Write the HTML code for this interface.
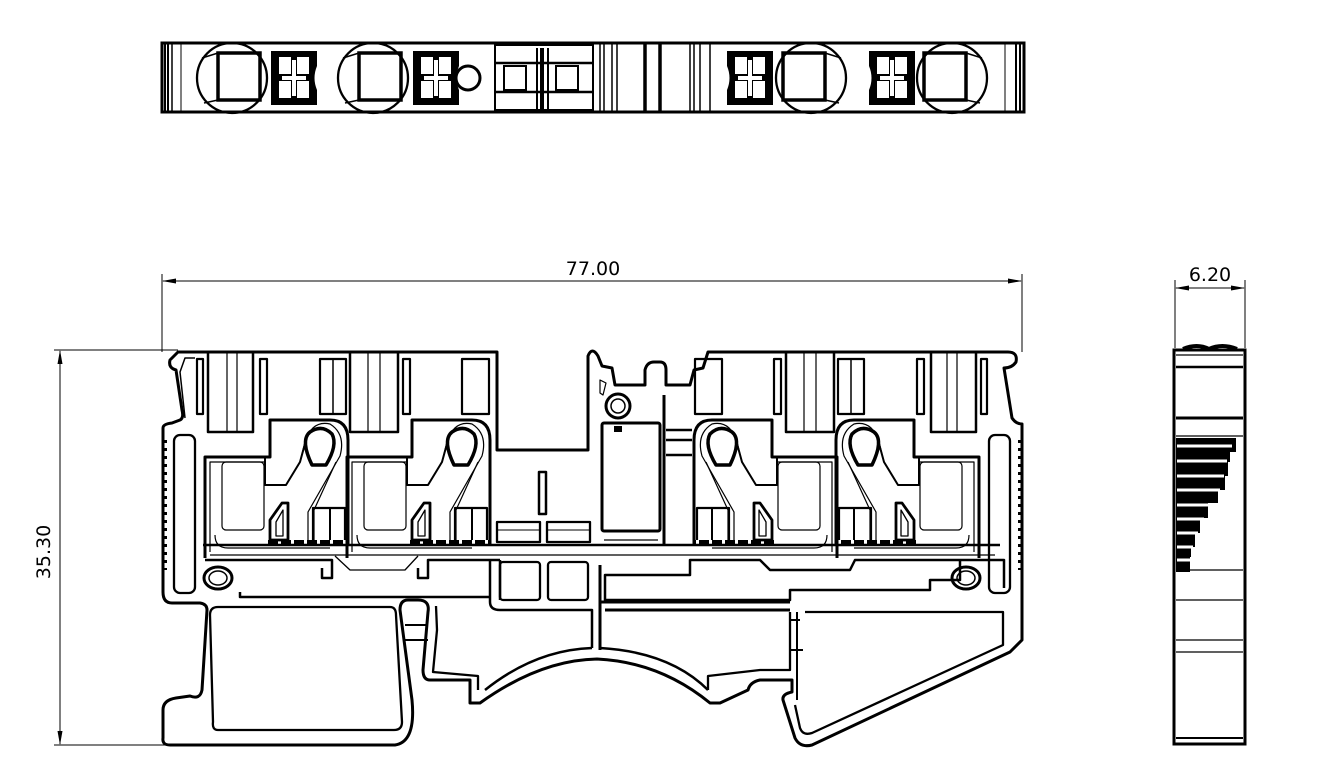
<!DOCTYPE html>
<html><head><meta charset="utf-8"><style>
html,body{margin:0;padding:0;background:#fff;width:1336px;height:781px;overflow:hidden}
svg{display:block}
text{font-family:"DejaVu Sans","Liberation Sans",sans-serif;font-size:19px;fill:#000}
</style></head><body>
<svg width="1336" height="781" viewBox="0 0 1336 781" xmlns="http://www.w3.org/2000/svg">
<defs>
<marker id="ar" markerWidth="14" markerHeight="8" refX="13" refY="4" orient="auto" markerUnits="userSpaceOnUse"><path d="M0,1.5 L14,4 L0,6.5 Z" fill="#000"/></marker>
<g id="clamp" fill="none" stroke="#000">
  <path d="M208,352 V432 H253 V352" stroke-width="2.5"/>
  <line x1="227" y1="352" x2="227" y2="432" stroke-width="1.2"/><line x1="237" y1="352" x2="237" y2="432" stroke-width="1.2"/>
  <rect x="197" y="359" width="6" height="55" stroke-width="2.2"/>
  <rect x="260" y="359" width="7" height="55" stroke-width="2.2"/>
  <rect x="320" y="359" width="26" height="55" stroke-width="2.2"/><line x1="333" y1="359" x2="333" y2="414" stroke-width="1.5"/>
  <path d="M350,352 V432 H398 V352" stroke-width="2.5"/>
  <line x1="368" y1="352" x2="368" y2="432" stroke-width="1.2"/><line x1="380" y1="352" x2="380" y2="432" stroke-width="1.2"/>
  <rect x="403" y="359" width="7" height="55" stroke-width="2.2"/>
  <rect x="462" y="359" width="27" height="55" stroke-width="2.2"/>
  <g id="c1">
    <path d="M205,558 V457 H270 V420 H330 Q348,420 348,440 V545" stroke-width="3"/>
    <path d="M210,552 V462 H265" stroke-width="1.2"/>
    <rect x="222" y="462" width="42" height="68" rx="4" stroke-width="1.2"/>
    <path d="M215,535 Q215,548 228,548 H330" stroke-width="1.2"/>
    <path d="M265,457 V485 H286 L300,462 L306,440" stroke-width="2"/>
    <path d="M312,465 Q300,440 310,432 Q322,424 332,434 Q338,445 326,465 Z" stroke-width="3.5"/>
    <path d="M300,462 L305,442 Q312,420 330,424 Q346,434 340,456 L308,512 V540" stroke-width="1.2"/>
    <path d="M336,462 L314,510 V540" stroke-width="1.2"/>
    <path d="M270,540 V520 L282,503 H288 V540 Z" stroke-width="2.8"/>
    <path d="M276,536 V522 L283,510 V536 Z" stroke-width="1.3"/>
    <path d="M313,540 V508 H345 V540" stroke-width="2.2"/><line x1="330" y1="508" x2="330" y2="540" stroke-width="2"/>
    <line x1="268" y1="542" x2="348" y2="542" stroke-width="4" stroke-dasharray="10,3"/>
  </g>
  <use href="#c1" x="142"/>
</g>
</defs>

<g fill="none" stroke="#000">
  <rect x="162" y="43" width="862" height="69" stroke-width="3"/>
  <line x1="165" y1="43" x2="165" y2="112" stroke-width="2"/><line x1="168" y1="43" x2="168" y2="112" stroke-width="2"/><line x1="172" y1="43" x2="172" y2="112" stroke-width="1.5"/><line x1="181" y1="43" x2="181" y2="112" stroke-width="1"/>
  <line x1="1020" y1="43" x2="1020" y2="112" stroke-width="2"/><line x1="1016" y1="43" x2="1016" y2="112" stroke-width="2"/><line x1="1005" y1="43" x2="1005" y2="112" stroke-width="1"/>
  <g id="circ">
    <circle cx="232" cy="78" r="35" stroke-width="2.3"/>
    <rect x="218" y="53" width="42" height="47" stroke-width="3.5"/>
    <line x1="202" y1="58" x2="218" y2="53" stroke-width="1.5"/>
    <line x1="204" y1="103" x2="218" y2="100" stroke-width="1.5"/>
  </g>
  <use href="#circ" x="141"/>
  <g transform="translate(1184,0) scale(-1,1)"><use href="#circ" x="0"/><use href="#circ" x="141"/></g>
  <g id="crs">
    <rect x="271" y="51" width="46" height="54" fill="#000" stroke="none"/>
    <rect x="279" y="57" width="12" height="17" fill="#fff" stroke="none"/>
    <rect x="297" y="57" width="12" height="17" fill="#fff" stroke="none"/>
    <rect x="279" y="81" width="12" height="17" fill="#fff" stroke="none"/>
    <rect x="297" y="81" width="12" height="17" fill="#fff" stroke="none"/>
    <rect x="292" y="60" width="4" height="36" fill="#fff" stroke="none"/>
    <rect x="282" y="76" width="24" height="4" fill="#fff" stroke="none"/>
    <path d="M317,66 Q312,78 317,90 Z" fill="#fff" stroke="none"/>
  </g>
  <use href="#crs" x="142"/>
  <g transform="translate(1186,0) scale(-1,1)"><use href="#crs" x="0"/><use href="#crs" x="142"/></g>
  <circle cx="468" cy="78" r="12" stroke-width="3"/>
  <rect x="495" y="45" width="98" height="65" stroke-width="2"/>
  <line x1="495" y1="63" x2="593" y2="63" stroke-width="2.5"/><line x1="495" y1="92" x2="593" y2="92" stroke-width="2.5"/>
  <rect x="504" y="66" width="22" height="24" stroke-width="2"/><rect x="556" y="66" width="22" height="24" stroke-width="2"/>
  <line x1="537" y1="48" x2="537" y2="110" stroke-width="2"/><line x1="542" y1="48" x2="542" y2="110" stroke-width="4"/><line x1="548" y1="48" x2="548" y2="110" stroke-width="2"/>
  <line x1="600" y1="43" x2="600" y2="112" stroke-width="1.5"/><line x1="604" y1="43" x2="604" y2="112" stroke-width="1.5"/>
  <line x1="612" y1="43" x2="612" y2="112" stroke-width="1.5"/><line x1="617" y1="43" x2="617" y2="112" stroke-width="1.5"/>
  <line x1="645" y1="43" x2="645" y2="112" stroke-width="3.5"/><line x1="660" y1="43" x2="660" y2="112" stroke-width="3.5"/>
  <line x1="690" y1="43" x2="690" y2="112" stroke-width="1.5"/><line x1="694" y1="43" x2="694" y2="112" stroke-width="1.5"/>
  <line x1="700" y1="43" x2="700" y2="112" stroke-width="1.5"/><line x1="710" y1="43" x2="710" y2="112" stroke-width="1.5"/>
</g>

<g stroke="#000" stroke-width="1" fill="none">
  <line x1="162" y1="274" x2="162" y2="352"/><line x1="1022" y1="274" x2="1022" y2="352"/>
  <line x1="200" y1="281" x2="163" y2="281" marker-end="url(#ar)"/><line x1="200" y1="281" x2="1021" y2="281" marker-end="url(#ar)"/>
  <line x1="54" y1="350" x2="178" y2="350"/><line x1="54" y1="745" x2="165" y2="745"/>
  <line x1="60" y1="500" x2="60" y2="351" marker-end="url(#ar)"/><line x1="60" y1="500" x2="60" y2="744" marker-end="url(#ar)"/>
  <line x1="1175" y1="280" x2="1175" y2="348"/><line x1="1245" y1="280" x2="1245" y2="348"/>
  <line x1="1210" y1="288" x2="1176" y2="288" marker-end="url(#ar)"/><line x1="1210" y1="288" x2="1244" y2="288" marker-end="url(#ar)"/>
</g>
<text x="593" y="275" text-anchor="middle">77.00</text>
<text x="1210" y="281" text-anchor="middle">6.20</text>
<text transform="translate(50,552) rotate(-90)" text-anchor="middle">35.30</text>

<g fill="none" stroke="#000" stroke-linejoin="round">
  <path d="M178,352 H497 V450 H588 V356 Q592,346 598,356 L602,366 L612,368 L615,385 H645 V370 Q647,362 654,362 H660 Q666,362 666,370 V385 H690 L694,370 L703,368 L708,352 H1008 Q1018,352 1016,362 Q1012,368 1004,368 L1012,418 Q1016,424 1022,424 V640 L1010,652 L812,745 Q800,748 795,738 L783,700 Q782,694 792,692 V680 H760 Q750,682 748,690 L720,703 L710,703 Q660,662 597,659 Q540,660 480,703 H470 V680 H430 Q423,680 423,670 L428,612 Q430,600 418,600 H408 Q400,600 400,610 L412,700 Q416,742 395,745 H170 Q162,745 163,738 L163,710 Q163,700 176,698 L190,696 Q200,700 202,690 L207,610 Q207,604 200,603 H172 Q163,603 163,592 V428 Q163,424 172,423 L180,420 Q184,418 182,410 L176,370 Q168,368 170,360 Z" stroke-width="3"/>
  <path d="M185,418 L180,372 L185,358 H195" stroke-width="1.5"/>
  <rect x="174" y="435" width="21" height="158" rx="6" stroke-width="2.3"/>
  <rect x="989" y="435" width="21" height="158" rx="6" stroke-width="2.3"/>
  <line x1="165" y1="440" x2="165" y2="570" stroke-width="4" stroke-dasharray="3,5"/>
  <line x1="1020" y1="440" x2="1020" y2="570" stroke-width="4" stroke-dasharray="3,5"/>
  <use href="#clamp"/>
  <g transform="translate(1184,0) scale(-1,1)"><use href="#clamp"/></g>
  <line x1="203" y1="545" x2="1000" y2="545" stroke-width="2.5"/>
  <line x1="210" y1="555" x2="995" y2="555" stroke-width="1.3"/>
  <path d="M335,556 L350,570 H405 L418,556" stroke-width="1.3"/>
  <path d="M205,560 H332 V578 H322 V568" stroke-width="2.5"/>
  <path d="M418,568 V578 H428 V560 H500" stroke-width="2.5"/>
  <path d="M500,560 V600" stroke-width="2.5"/>
  <path d="M240,592 V597 H490" stroke-width="2.5"/>
  <path d="M1004,588 V560 H855 L850,570 H770 L760,560 H690 V575 H605 V600 H790 V590 H930 V580 H960 V560" stroke-width="2.5"/>
  <ellipse cx="218" cy="578" rx="14" ry="11" stroke-width="3"/>
  <ellipse cx="218" cy="578" rx="9" ry="7" stroke-width="1.5"/>
  <ellipse cx="966" cy="578" rx="14" ry="11" stroke-width="3"/>
  <ellipse cx="966" cy="578" rx="9" ry="7" stroke-width="1.5"/>
  <rect x="539" y="472" width="7" height="42" stroke-width="2.5"/>
  <rect x="497" y="522" width="43" height="20" stroke-width="2.3"/>
  <rect x="547" y="522" width="43" height="20" stroke-width="2.3"/>
  <line x1="497" y1="530" x2="540" y2="530" stroke-width="1"/><line x1="547" y1="530" x2="590" y2="530" stroke-width="1"/>
  <circle cx="618" cy="406" r="12" stroke-width="3"/><circle cx="618" cy="406" r="7" stroke-width="1.5"/>
  <path d="M600,380 L606,383 L603,395 L600,393 Z" stroke-width="1.2"/>
  <rect x="602" y="423" width="58" height="108" rx="2" stroke-width="3"/>
  <rect x="614" y="426" width="8" height="6" fill="#000" stroke="none"/>
  <line x1="664" y1="395" x2="664" y2="545" stroke-width="3"/>
  <path d="M666,430 H692 M666,440 H692 M666,455 H692" stroke-width="2.5"/>
  <line x1="604" y1="540" x2="658" y2="540" stroke-width="1.2"/>
  <path d="M490,560 V602 Q490,610 500,610 H592 V648" stroke-width="2.5"/>
  <rect x="500" y="562" width="40" height="38" rx="3" stroke-width="2.3"/>
  <rect x="548" y="562" width="40" height="38" rx="3" stroke-width="2.3"/>
  <line x1="600" y1="565" x2="600" y2="650" stroke-width="3"/>
  <line x1="600" y1="602" x2="790" y2="602" stroke-width="3"/>
  <line x1="605" y1="610" x2="790" y2="610" stroke-width="3"/>
  <path d="M478,690 V676 L433,672 L437,630 L436,606" stroke-width="2.3"/>
  <path d="M485,690 Q535,650 592,648" stroke-width="2.5"/>
  <path d="M600,648 Q670,652 708,690" stroke-width="2.5"/>
  <path d="M708,690 V676 L760,670 H790 L790,612" stroke-width="2.3"/>
  <path d="M797,612 V700" stroke-width="2"/>
  <line x1="790" y1="620" x2="800" y2="620" stroke-width="2"/><line x1="790" y1="650" x2="803" y2="650" stroke-width="2"/>
  <path d="M805,612 H1003 V645 L812,733 Q803,736 800,728 L795,705" stroke-width="2.3"/>
  <path d="M218,607 H390 Q396,607 396,615 L402,722 Q402,730 394,730 H218 Q212,730 213,722 L210,615 Q210,607 218,607 Z" stroke-width="2.3"/>
  <line x1="405" y1="625" x2="428" y2="625" stroke-width="2"/><line x1="405" y1="640" x2="428" y2="640" stroke-width="2"/>
</g>

<g fill="none" stroke="#000">
  <rect x="1174" y="350" width="71" height="394" stroke-width="3"/>
  <path d="M1183,349 Q1197,343 1209,349 Q1222,343 1237,349" stroke-width="4"/>
  <line x1="1176" y1="355" x2="1243" y2="355" stroke-width="1.2"/>
  <line x1="1176" y1="367" x2="1243" y2="367" stroke-width="2.5"/>
  <line x1="1176" y1="418" x2="1243" y2="418" stroke-width="3"/>
  <line x1="1176" y1="436" x2="1243" y2="436" stroke-width="1.2"/>
  <line x1="1176" y1="570" x2="1243" y2="570" stroke-width="1.2"/>
  <line x1="1176" y1="600" x2="1243" y2="600" stroke-width="1.2"/>
  <line x1="1176" y1="640" x2="1243" y2="640" stroke-width="1.2"/>
  <line x1="1176" y1="652" x2="1243" y2="652" stroke-width="1.2"/>
  <line x1="1176" y1="738" x2="1243" y2="738" stroke-width="2"/>
</g>
<g fill="#000">
  <path d="M1176,438 H1236 V452 H1230 V462 H1228 V476 H1225 V490 H1218 V503 H1208 V518 H1200 V533 H1195 V547 H1191 V557 H1190 V572 H1176 Z"/>
</g>
<g stroke="#fff" stroke-width="3">
  <line x1="1177" y1="446" x2="1232" y2="446"/>
  <line x1="1177" y1="461" x2="1227" y2="461"/>
  <line x1="1177" y1="476" x2="1224" y2="476"/>
  <line x1="1177" y1="490" x2="1220" y2="490"/>
  <line x1="1177" y1="505" x2="1212" y2="505"/>
  <line x1="1177" y1="519" x2="1204" y2="519"/>
  <line x1="1177" y1="533" x2="1198" y2="533"/>
  <line x1="1177" y1="547" x2="1193" y2="547"/>
  <line x1="1177" y1="560" x2="1190" y2="560"/>
</g>
</svg>
</body></html>
